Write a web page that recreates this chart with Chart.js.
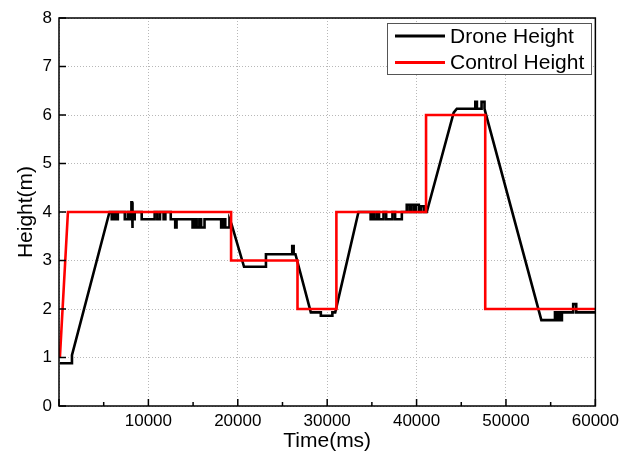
<!DOCTYPE html>
<html>
<head>
<meta charset="utf-8">
<script src="https://cdn.jsdelivr.net/npm/chart.js@4.4.0/dist/chart.umd.min.js"></script>
<style>
html, body { margin: 0; padding: 0; background: #fff; }
</style>
</head>
<body>
<canvas id="chart" width="624" height="456"></canvas>
<script>
// measured drone height, vertices of the trace
var droneTime = [100, 1450, 1450, 5650,
	5900, 5900, 6130, 6130, 6350, 6350, 6580, 6580,
	7360, 7360, 7700, 7700, 7900, 7900, 8100, 8100, 8170, 8170, 8250, 8250, 8470, 8470,
	9250, 9250,
	10700, 10700, 11000, 11000, 11300, 11300, 11700, 11700, 11900, 11900, 12500, 12500,
	13000, 13000, 13150, 13150,
	14940, 14940, 15200, 15200, 15400, 15400, 15700, 15700, 15900, 15900, 16280, 16280,
	18140, 18140, 18400, 18400, 18600, 18600, 19070, 19070,
	19300, 20700,
	23150, 23150,
	26090, 26090, 26250, 26250, 26450,
	28170,
	29290, 29290, 30580, 30580, 30900,
	33500,
	34860, 34860, 35100, 35100, 35300, 35300, 35600, 35600, 35800, 35800, 36300, 36300,
	36600, 36600, 37300, 37300, 37600, 37600, 38350, 38350,
	38900, 38900, 39200, 39200, 39400, 39400, 39700, 39700, 39900, 39900, 40250, 40250,
	40470, 40470, 40800, 40800,
	41140, 44150, 44500,
	46570, 46570, 46750, 46750, 47270, 47270, 47600, 47600,
	47710, 53960,
	55480, 55480, 55700, 55700, 55900, 55900, 56050, 56050, 56260, 56260,
	57520, 57520, 57860, 57860,
	60000];
var droneHeight = [0.88, 0.88, 1.05, 4.0,
	4.0, 3.85, 3.85, 4.0, 4.0, 3.85, 3.85, 4.0,
	4.0, 3.85, 3.85, 4.0, 4.0, 3.85, 3.85, 4.2, 4.2, 3.67, 3.67, 3.85, 3.85, 4.0,
	4.0, 3.85,
	3.85, 4.0, 4.0, 3.85, 3.85, 4.0, 4.0, 3.85, 3.85, 4.0, 4.0, 3.85,
	3.85, 3.68, 3.68, 3.85,
	3.85, 3.68, 3.68, 3.85, 3.85, 3.68, 3.68, 3.85, 3.85, 3.68, 3.68, 3.85,
	3.85, 3.68, 3.68, 3.85, 3.85, 3.68, 3.68, 3.85,
	3.75, 2.87,
	2.87, 3.13,
	3.13, 3.3, 3.3, 3.13, 3.13,
	1.93,
	1.93, 1.86, 1.86, 1.93, 1.93,
	4.0,
	4.0, 3.85, 3.85, 4.0, 4.0, 3.85, 3.85, 4.0, 4.0, 3.85, 3.85, 4.0,
	4.0, 3.85, 3.85, 4.0, 4.0, 3.85, 3.85, 4.0,
	4.0, 4.15, 4.15, 4.0, 4.0, 4.15, 4.15, 4.0, 4.0, 4.15, 4.15, 4.0,
	4.0, 4.12, 4.12, 4.0,
	4.0, 6.05, 6.13,
	6.13, 6.27, 6.27, 6.13, 6.13, 6.27, 6.27, 6.13,
	6.05, 1.77,
	1.77, 1.93, 1.93, 1.77, 1.77, 1.93, 1.93, 1.77, 1.77, 1.93,
	1.93, 2.1, 2.1, 1.93,
	1.93];

// commanded height
var controlTime = [100, 1000, 19250, 19250, 26680, 26680, 31030, 31030, 41060, 41060, 47680, 47680, 60000];
var controlHeight = [1, 4, 4, 3, 3, 2, 2, 4, 4, 6, 6, 2, 2];

var seriesNames = ["Drone Height", "Control Height"];
var seriesColors = ["#000000", "#ff0000"];

function toPoints(xs, ys) {
	var pts = [];
	for (var i = 0; i < xs.length; i++) pts.push({ x: xs[i], y: ys[i] });
	return pts;
}

var fontFamily = "'Liberation Sans', Arial, sans-serif";

// plot frame, inward ticks and the boxed legend
var framePlugin = {
	id: "frame",
	afterDatasetsDraw: function(chart) {
		var a = chart.chartArea, c = chart.ctx;
		var xs = chart.scales.x, ys = chart.scales.y;
		c.save();
		c.strokeStyle = "#000";
		c.lineWidth = 1.5;
		c.beginPath();
		xs.ticks.forEach(function(t) {
			var px = xs.getPixelForValue(t.value);
			var len = t.value % 10000 === 0 ? 7 : 4;
			c.moveTo(px, a.bottom);
			c.lineTo(px, a.bottom - len);
		});
		ys.ticks.forEach(function(t) {
			var py = ys.getPixelForValue(t.value);
			c.moveTo(a.left, py);
			c.lineTo(a.left + 7, py);
		});
		c.stroke();
		c.strokeRect(a.left, a.top, a.right - a.left, a.bottom - a.top);

		// legend
		var bx = 387, by = 23, bw = 204, bh = 51;
		c.fillStyle = "#fff";
		c.fillRect(bx, by, bw, bh);
		c.strokeStyle = "#555";
		c.lineWidth = 1;
		c.strokeRect(bx + 0.5, by + 0.5, bw, bh);
		c.font = "21px " + fontFamily;
		c.textBaseline = "middle";
		c.textAlign = "left";
		for (var i = 0; i < seriesNames.length; i++) {
			var ly = 36 + i * 26.5;
			c.strokeStyle = seriesColors[i];
			c.lineWidth = 3;
			c.beginPath();
			c.moveTo(395, ly);
			c.lineTo(445, ly);
			c.stroke();
			c.fillStyle = "#000";
			c.fillText(seriesNames[i], 450, ly + 1);
		}
		c.restore();
	}
};

var ctx = document.getElementById("chart");

var chart = new Chart(ctx, {
	type: "line",
	data: {
		datasets: [
			{
				label: seriesNames[0],
				data: toPoints(droneTime, droneHeight),
				borderColor: seriesColors[0],
				borderWidth: 2.6,
				lineTension: 0,
				pointRadius: 0,
				fill: false,
				order: 1
			},
			{
				label: seriesNames[1],
				data: toPoints(controlTime, controlHeight),
				borderColor: seriesColors[1],
				borderWidth: 2.6,
				lineTension: 0,
				pointRadius: 0,
				fill: false,
				order: 0
			}
		]
	},
	options: {
		responsive: false,
		animation: false,
		layout: { padding: { left: 0, right: 27, top: 18, bottom: 0 } },
		plugins: {
			legend: { display: false },
			tooltip: { enabled: false }
		},
		scales: {
			x: {
				type: "linear",
				min: 0,
				max: 60000,
				afterFit: function(s) { s.height = 50; },
				ticks: {
					stepSize: 5000,
					autoSkip: false,
					maxRotation: 0,
					padding: 5,
					color: "#000",
					font: { family: fontFamily, size: 17 },
					callback: function(v) { return (v % 10000 === 0 && v !== 0) ? String(v) : ""; }
				},
				grid: {
					drawTicks: false,
					lineWidth: 1,
					color: function(c) { return (c.tick && c.tick.value % 10000 === 0) ? "#b8b8b8" : "rgba(0,0,0,0)"; }
				},
				border: { display: false, dash: [1, 2] },
				title: {
					display: true,
					text: "Time(ms)",
					color: "#000",
					font: { family: fontFamily, size: 21 },
					padding: { top: 0, bottom: 2 }
				}
			},
			y: {
				min: 0,
				max: 8,
				afterFit: function(s) { s.width = 59; },
				ticks: {
					stepSize: 1,
					padding: 7,
					color: "#000",
					font: { family: fontFamily, size: 17 }
				},
				grid: {
					drawTicks: false,
					lineWidth: 1,
					color: "#b8b8b8"
				},
				border: { display: false, dash: [1, 2] },
				title: {
					display: true,
					text: "Height(m)",
					color: "#000",
					font: { family: fontFamily, size: 21 },
					padding: { top: 14, bottom: 0 }
				}
			}
		}
	},
	plugins: [framePlugin]
});
</script>
</body>
</html>
